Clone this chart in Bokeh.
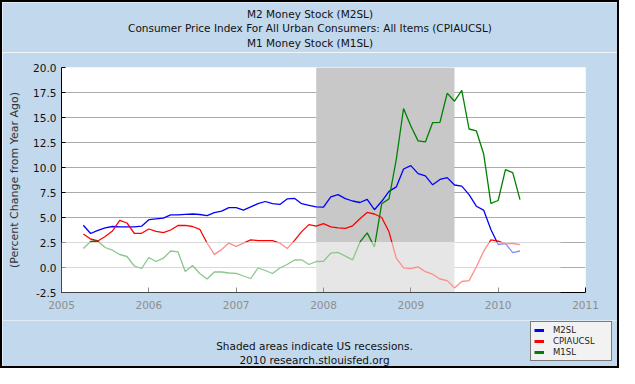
from bokeh.plotting import figure
from bokeh.layouts import column
from bokeh.models import (Range1d, FixedTicker, NumeralTickFormatter, Label,
                          BoxAnnotation, Legend, LegendItem)
from bokeh.embed import file_html
from bokeh.resources import INLINE

# ---------------- data (monthly, Apr 2005 .. Apr 2010) ----------------
start_year = 2005
start_month = 4
m2sl = [4.23, 3.40, 3.72, 3.97, 4.10, 4.07, 4.07, 4.07, 4.13, 4.78,
        4.87, 4.94, 5.26, 5.26, 5.32, 5.35, 5.30, 5.19, 5.48, 5.64,
        5.99, 5.99, 5.74, 6.06, 6.38, 6.60, 6.38, 6.31, 6.86, 6.92,
        6.38, 6.22, 6.06, 6.03, 7.07, 7.29, 6.89, 6.65, 6.50, 6.82,
        5.78, 6.62, 7.61, 8.06, 9.85, 10.19, 9.39, 9.16, 8.27, 8.81,
        8.99, 8.25, 8.14, 7.29, 6.13, 5.74, 3.80, 2.30, 2.40, 1.49, 1.65]
cpiaucsl = [3.35, 2.85, 2.65, 3.10, 3.65, 4.72, 4.45, 3.42, 3.42, 3.85,
            3.62, 3.48, 3.75, 4.20, 4.22, 4.10, 3.82, 2.45, 1.31, 1.79,
            2.44, 2.12, 2.44, 2.76, 2.69, 2.69, 2.69, 2.44, 1.89, 2.69,
            3.59, 4.29, 4.13, 4.39, 4.07, 3.97, 3.91, 4.17, 4.87, 5.51,
            5.35, 5.00, 3.57, 0.93, -0.03, -0.10, 0.06, -0.42, -0.67, -1.15,
            -1.31, -2.04, -1.40, -1.31, 0.05, 1.62, 2.76, 2.63, 2.37, 2.40, 2.28]
m1sl = [1.90, 2.60, 2.63, 2.00, 1.73, 1.30, 1.10, 0.15, -0.10, 1.00,
        0.60, 0.93, 1.65, 1.57, -0.40, 0.20, -0.60, -1.15, -0.45, -0.45,
        -0.55, -0.58, -0.85, -1.10, -0.05, -0.30, -0.60, -0.05, 0.30, 0.75,
        0.77, 0.30, 0.60, 0.62, 1.44, 1.51, 1.14, 0.77, 2.53, 3.46,
        2.05, 6.38, 6.86, 10.80, 15.90, 14.15, 12.66, 12.56, 14.49, 14.52,
        17.44, 16.63, 17.72, 13.85, 13.67, 11.38, 6.41, 6.70, 9.78, 9.49, 6.79]

rec_start = [2007 + 11 / 12]   # Dec 2007
rec_end = [2009 + 6 / 12]      # end of Jun 2009

year_ticks = [2005, 2006, 2007, 2008, 2009, 2010, 2011]
y_ticks = [-2.5, 0.0, 2.5, 5.0, 7.5, 10.0, 12.5, 15.0, 17.5, 20.0]

titles = ["M2 Money Stock (M2SL)",
          "Consumer Price Index For All Urban Consumers: All Items (CPIAUCSL)",
          "M1 Money Stock (M1SL)"]
notes = ["Shaded areas indicate US recessions.",
         "2010 research.stlouisfed.org"]
series_names = ["M2SL", "CPIAUCSL", "M1SL"]
series_colors = ["#0000ff", "#ff0000", "#008000"]

x_dates = [start_year + (start_month - 1 + i) / 12 for i in range(len(m2sl))]
series = [m2sl, cpiaucsl, m1sl]

# ---------------- layout ----------------
W = 615
H_TOP, H_MAIN, H_BOT = 50, 268, 46
FL, FR = 59, 583          # frame left/right inside main figure
FT, FB = 15, 240          # frame top/bottom inside main figure
X0, X1 = 2005, 2011
Y0, Y1 = -2.5, 20.0
FONT = "DejaVu Sans"
BG = "#c2d8ec"


def cx(px):
    return X0 + (px - FL) * (X1 - X0) / (FR - FL)


def cy(py):
    return Y1 - (py - FT) * (Y1 - Y0) / (FB - FT)


def blank(h):
    f = figure(width=W, height=h, x_range=Range1d(0, W), y_range=Range1d(h, 0),
               x_axis_location=None, y_axis_location=None,
               output_backend="svg", toolbar_location=None,
               min_border=0, frame_align=False)
    f.grid.visible = False
    f.outline_line_color = None
    f.background_fill_color = BG
    f.border_fill_color = BG
    return f


# ---- top: titles ----
pt = blank(H_TOP)
for k, t in enumerate(titles):
    pt.add_layout(Label(x=W / 2, y=11.4 + 14.4 * k, text=t,
                        text_align="center", text_baseline="middle",
                        text_font=FONT, text_font_size="10.5px",
                        text_color="#111111"))

# ---- main chart ----
p = figure(width=W, height=H_MAIN, x_range=Range1d(X0, X1), y_range=Range1d(Y0, Y1),
           output_backend="svg", toolbar_location=None, frame_align=False,
           min_border_left=FL, min_border_right=W - FR,
           min_border_top=FT, min_border_bottom=H_MAIN - FB)
p.background_fill_color = "white"
p.border_fill_color = BG
p.outline_line_color = None

p.xaxis.ticker = FixedTicker(ticks=year_ticks)
p.yaxis.ticker = FixedTicker(ticks=y_ticks)
p.yaxis.formatter = NumeralTickFormatter(format="0.0")
for ax in (p.xaxis, p.yaxis):
    ax.axis_line_color = "black"
    ax.major_tick_line_color = "black"
    ax.minor_tick_line_color = None
    ax.major_tick_out = 0
    ax.major_label_text_font = FONT
    ax.major_label_text_font_size = "10.5px"
p.yaxis.major_label_text_color = "#111111"
p.xaxis.major_label_text_color = "#8e8e8e"
p.xaxis.major_tick_in = 5
p.yaxis.major_tick_in = 4
p.xaxis.major_label_standoff = 8
p.yaxis.major_label_standoff = 5
p.yaxis.axis_label = "(Percent Change from Year Ago)"
p.yaxis.axis_label_text_font = FONT
p.yaxis.axis_label_text_font_size = "11px"
p.yaxis.axis_label_text_font_style = "normal"
p.yaxis.axis_label_text_color = "#333333"
p.yaxis.axis_label_standoff = 9
p.xgrid.visible = False
p.ygrid.grid_line_color = "#ababab"
p.ygrid.grid_line_width = 1

p.quad(left=rec_start, right=rec_end, bottom=Y0, top=Y1,
       fill_color="#c8c8c8", line_color=None)

for vals, col in zip(series, series_colors):
    p.line(x_dates, vals, line_color=col, line_width=1.3)

# light translucent band present in the picture
p.add_layout(BoxAnnotation(left=cx(2), right=cx(558), top=cy(239.5 - H_TOP),
                           bottom=cy(310 - H_TOP),
                           fill_color="white", fill_alpha=0.55, line_color=None,
                           level="overlay"))

# ---- bottom: notes + legend ----
pb = blank(H_BOT)
for k, t in enumerate(notes):
    pb.add_layout(Label(x=312, y=25 + 14.4 * k, text=t,
                        text_align="center", text_baseline="middle",
                        text_font=FONT, text_font_size="10.5px",
                        text_color="#111111"))
items = []
for name, vals, col in zip(series_names, series, series_colors):
    # legend proxies: same series, lying outside this strip's visible range
    r = pb.line(x=x_dates, y=vals, line_color=col, line_width=3)
    items.append(LegendItem(label=name, renderers=[r]))
legend = Legend(items=items, location=(528, 5), orientation="vertical",
                background_fill_color="#f2f2f2", background_fill_alpha=1,
                border_line_color="black", border_line_width=1,
                label_text_font=FONT, label_text_font_size="8.5px",
                label_text_color="#222222",
                glyph_width=10, glyph_height=10, label_height=10,
                label_width=55, label_standoff=9, spacing=1, padding=3, margin=0)
pb.add_layout(legend)

layout = column(pt, p, pb, spacing=0, styles={"border": "2px solid black"})

open("out.html", "w").write(file_html(layout, INLINE))
